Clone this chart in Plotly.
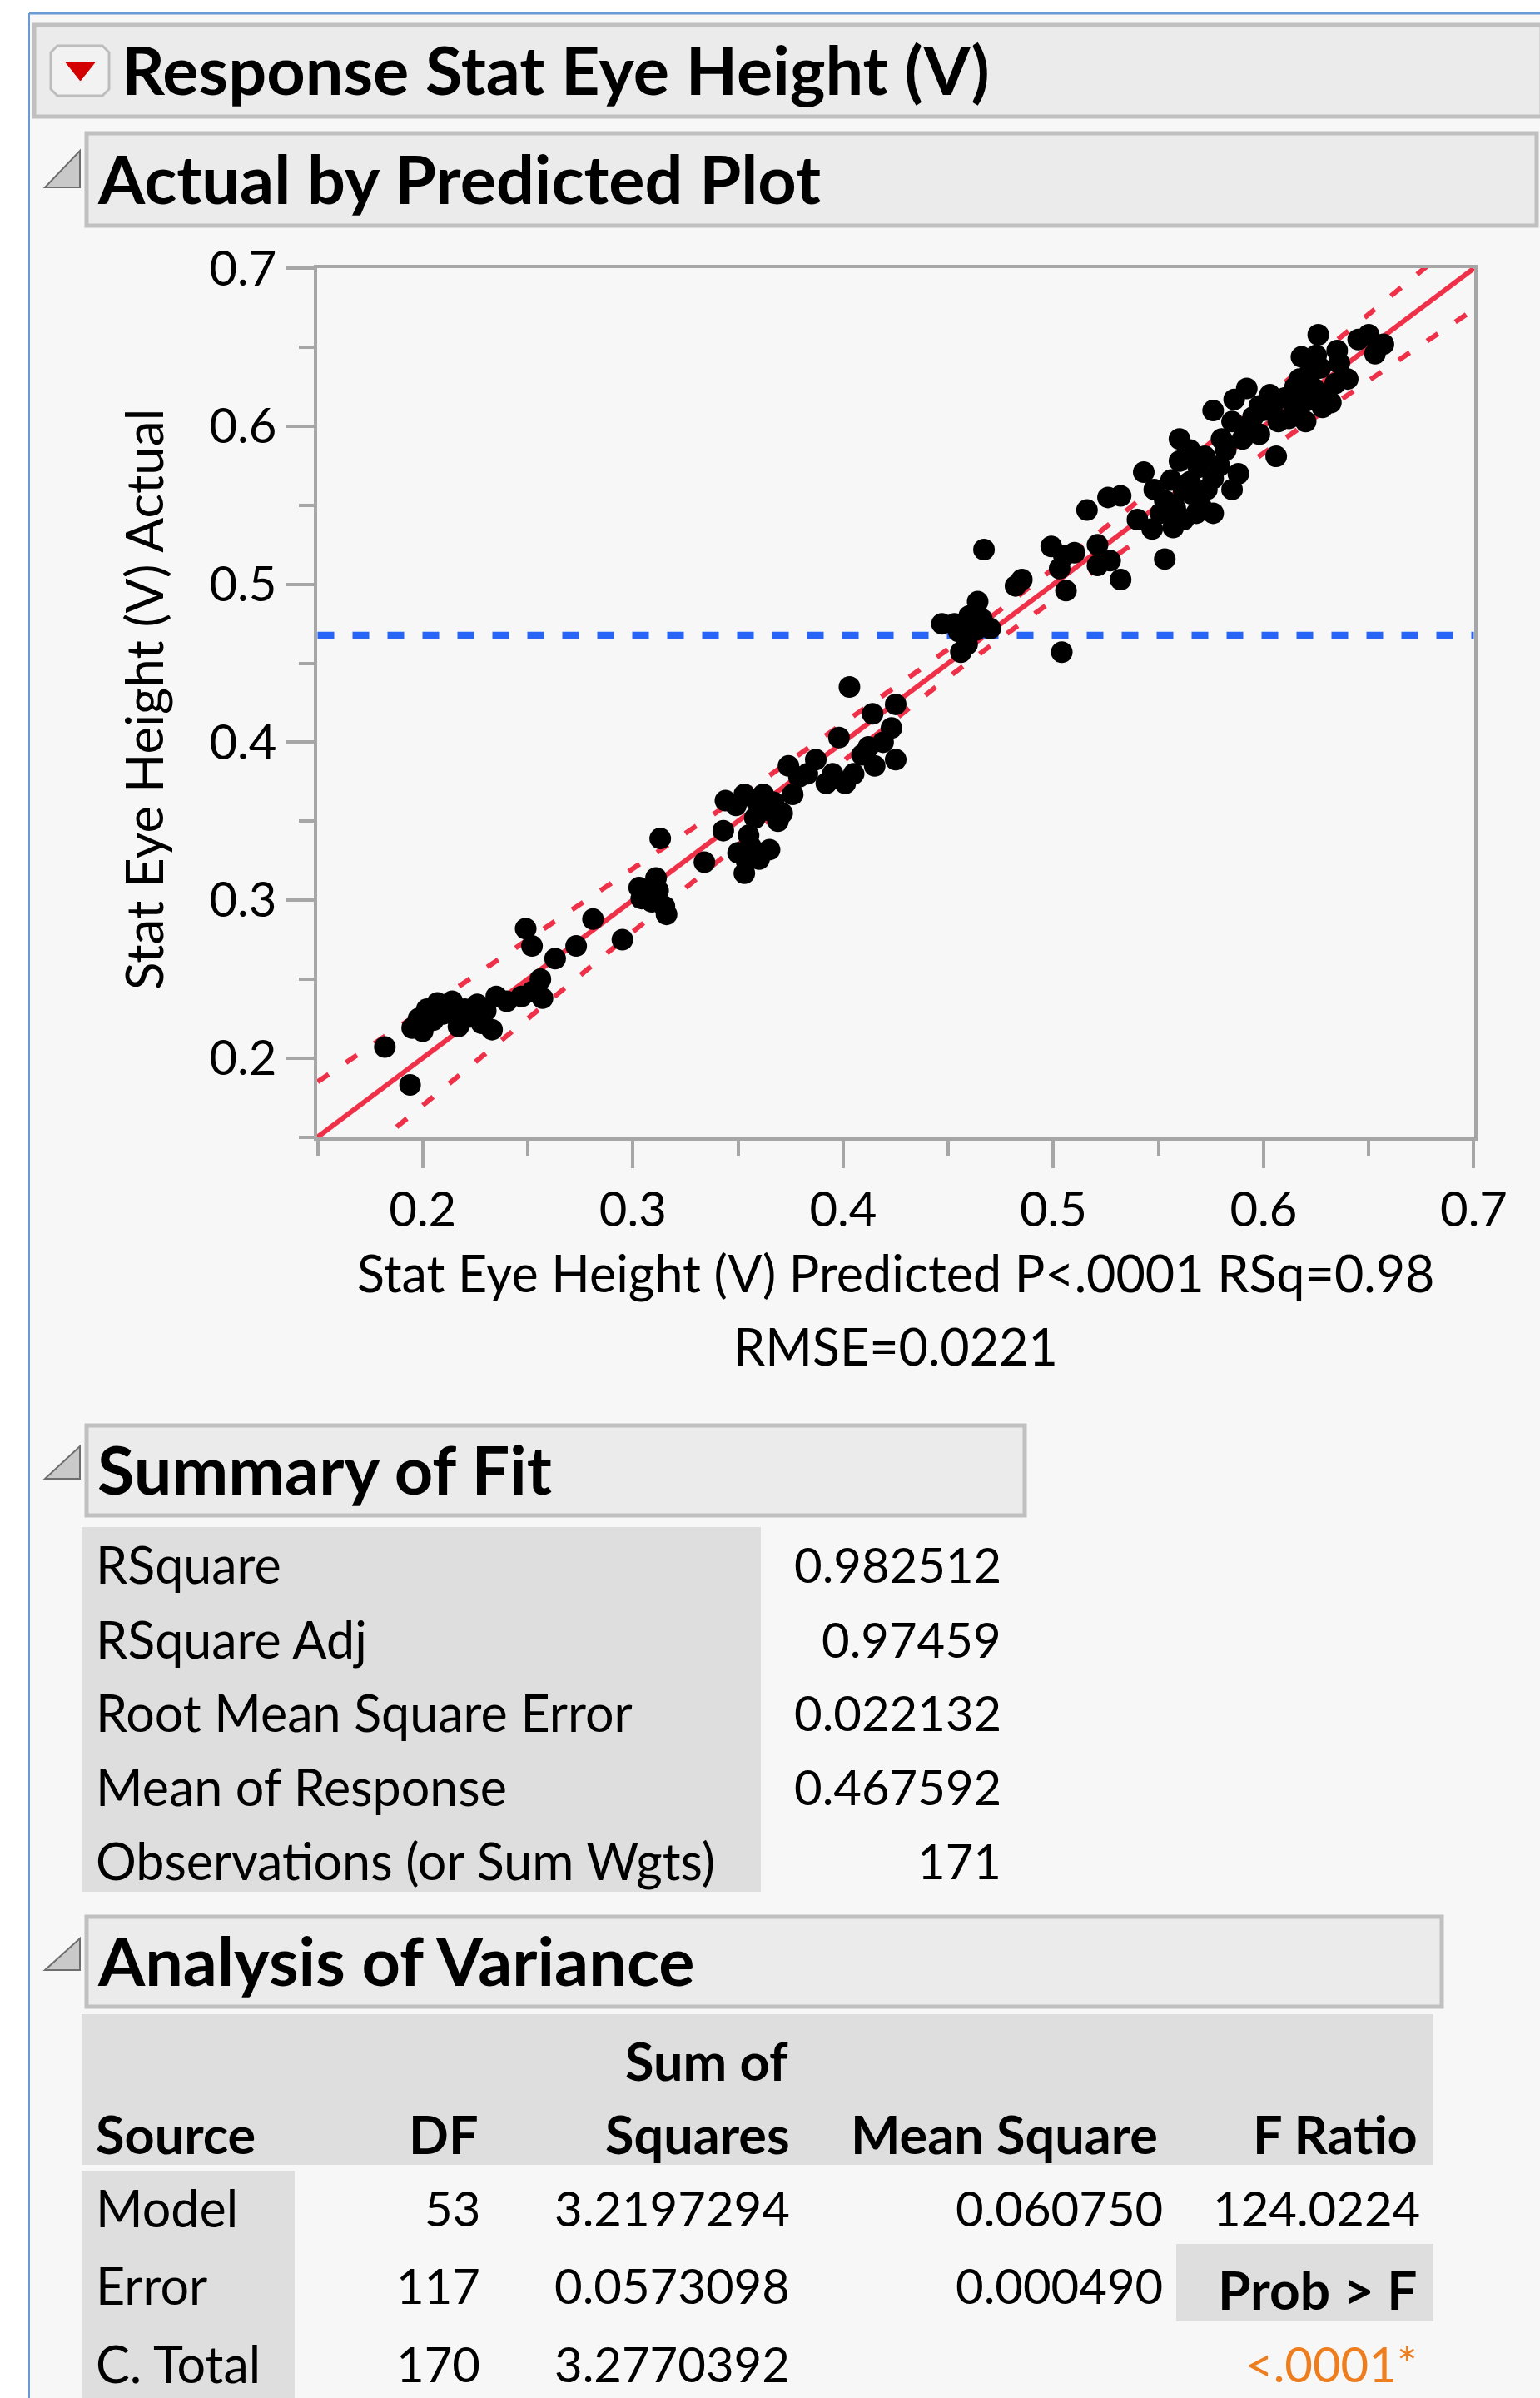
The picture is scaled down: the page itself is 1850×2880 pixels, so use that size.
import plotly.graph_objects as go

# ---------------- data ----------------
pred = [0.182,0.194,0.195,0.200,0.202,0.214,0.220,0.222,0.233,0.235,0.247,0.257,0.256,0.249,0.252,0.263,0.273,0.281,0.295,0.303,
        0.311,0.309,0.313,0.205,0.210,0.226,0.228,0.217,0.207,0.240,0.252,
        0.304,0.315,0.316,0.334,0.343,0.353,0.354,0.355,0.365,0.344,0.353,0.362,0.369,0.374,0.376,0.387,0.392,0.401,0.398,
        0.403,0.412,0.415,0.425,0.414,0.423,0.425,0.358,0.364,0.379,0.383,0.349,0.395,0.356,0.360,
        0.456,0.447,0.463,0.466,0.464,0.482,0.485,0.467,0.499,0.505,0.506,0.504,0.521,0.521,0.532,0.553,0.516,0.526,0.532,0.543,
        0.540,0.547,0.557,0.562,0.553,0.562,0.570,0.576,0.569,0.560,0.556,0.576,0.455,0.459,0.453,
        0.560,0.572,0.566,0.585,0.590,0.580,0.576,0.585,0.592,0.598,0.607,0.606,0.603,0.615,0.618,0.620,0.626,0.627,0.634,0.635,
        0.632,0.650,0.653,0.586,0.595,0.615,0.630,0.622,0.657,
        0.198,0.212,0.218,0.230,0.307,0.312,0.350,0.359,0.367,0.371,0.405,0.409,0.419,0.460,0.470,0.510,0.527,0.503,
        0.548,0.551,0.558,0.565,0.568,0.573,0.579,0.582,0.565,0.588,
        0.592,0.598,0.600,0.604,0.610,0.612,0.617,0.624,0.628,0.625,0.636,0.640,0.645,0.620]
actual = [0.207,0.183,0.219,0.217,0.231,0.236,0.231,0.226,0.218,0.239,0.239,0.238,0.250,0.282,0.271,0.263,0.271,0.288,0.275,0.308,
          0.314,0.299,0.339,0.224,0.228,0.234,0.222,0.220,0.235,0.236,0.242,
          0.301,0.296,0.291,0.324,0.344,0.317,0.325,0.341,0.332,0.363,0.367,0.367,0.350,0.385,0.367,0.389,0.374,0.374,0.403,
          0.435,0.397,0.385,0.389,0.418,0.409,0.424,0.352,0.357,0.378,0.380,0.360,0.380,0.334,0.326,
          0.457,0.475,0.471,0.478,0.489,0.499,0.503,0.522,0.524,0.518,0.496,0.457,0.525,0.512,0.503,0.516,0.547,0.555,0.556,0.571,
          0.541,0.535,0.536,0.541,0.553,0.559,0.550,0.567,0.574,0.578,0.566,0.545,0.470,0.462,0.475,
          0.592,0.581,0.557,0.560,0.592,0.592,0.610,0.603,0.624,0.613,0.603,0.581,0.620,0.625,0.644,0.616,0.658,0.637,0.627,0.648,
          0.615,0.658,0.646,0.617,0.606,0.610,0.620,0.634,0.652,
          0.225,0.232,0.226,0.230,0.305,0.306,0.330,0.362,0.362,0.355,0.380,0.392,0.400,0.480,0.472,0.520,0.515,0.510,
          0.560,0.545,0.548,0.565,0.545,0.560,0.575,0.585,0.585,0.570,
          0.600,0.595,0.610,0.612,0.618,0.605,0.630,0.624,0.612,0.645,0.640,0.630,0.655,0.603]

fit_x = [0.15, 0.70]
fit_y = [0.15, 0.70]
band_x = [0.15, 0.20, 0.25, 0.30, 0.35, 0.40, 0.45, 0.50, 0.55, 0.60, 0.65, 0.70]
band_upper = [0.185, 0.230, 0.275, 0.320, 0.365, 0.412, 0.459, 0.510, 0.563, 0.617, 0.671, 0.726]
band_lower = [0.115, 0.170, 0.225, 0.280, 0.335, 0.388, 0.441, 0.490, 0.537, 0.583, 0.629, 0.674]
mean_response = 0.467592

x_ticks = [0.2, 0.3, 0.4, 0.5, 0.6, 0.7]
y_ticks = [0.2, 0.3, 0.4, 0.5, 0.6, 0.7]
minor_ticks = [0.15, 0.25, 0.35, 0.45, 0.55, 0.65]

fit_labels = ["RSquare", "RSquare Adj", "Root Mean Square Error", "Mean of Response", "Observations (or Sum Wgts)"]
fit_values = ["0.982512", "0.97459", "0.022132", "0.467592", "171"]

anova_source = ["Model", "Error", "C. Total"]
anova_df = ["53", "117", "170"]
anova_ss = ["3.2197294", "0.0573098", "3.2770392"]
anova_ms = ["0.060750", "0.000490", ""]
f_ratio = "124.0224"
prob_f = "<.0001*"

# ---------------- layout helpers ----------------
W, H = 1850, 2880
FONT = "Lato"
def px(x): return x / W
def py(y): return 1 - y / H

GRAY = "#A6A6A6"
RED = "#EE3148"

fig = go.Figure()

fig.add_trace(go.Scatter(x=band_x, y=band_upper, mode="lines", line=dict(color=RED, width=6, dash="16px,25px", shape="spline"), hoverinfo="skip"))
fig.add_trace(go.Scatter(x=band_x, y=band_lower, mode="lines", line=dict(color=RED, width=6, dash="16px,25px", shape="spline"), hoverinfo="skip"))
fig.add_trace(go.Scatter(x=fit_x, y=fit_y, mode="lines", line=dict(color=RED, width=6), hoverinfo="skip"))
fig.add_trace(go.Scatter(x=[0.15, 0.70], y=[mean_response, mean_response], mode="lines",
                         line=dict(color="#2864F6", width=9, dash="20px,22px"), hoverinfo="skip"))
fig.add_trace(go.Scatter(x=pred, y=actual, mode="markers", marker=dict(color="black", size=26, line=dict(width=0)), hoverinfo="skip"))

axis_common = dict(
    showline=True, linecolor=GRAY, linewidth=4, mirror=True, automargin=False,
    showgrid=False, zeroline=False,
    ticks="outside", ticklen=33, tickwidth=4, tickcolor=GRAY,
    tickfont=dict(family=FONT, size=58, color="black"),
    tickmode="array",
)
fig.update_layout(
    width=W, height=H, margin=dict(l=0, r=0, t=0, b=0, autoexpand=False),
    paper_bgcolor="white", plot_bgcolor="white", showlegend=False,
    xaxis=dict(**axis_common, domain=[px(381), px(1771)], range=[0.1498, 0.7002],
               tickvals=x_ticks, ticktext=[str(v) for v in x_ticks],
               minor=dict(tickmode="array", tickvals=minor_ticks, ticks="outside", ticklen=18, tickwidth=4, tickcolor=GRAY)),
    yaxis=dict(**axis_common, domain=[py(1366), py(322)], range=[0.1498, 0.7002],
               tickvals=y_ticks, ticktext=[str(v) for v in y_ticks],
               minor=dict(tickmode="array", tickvals=minor_ticks, ticks="outside", ticklen=18, tickwidth=4, tickcolor=GRAY)),
)

shapes = []
def rect(x0, y0, x1, y1, fill, line=None, lw=0, layer="below"):
    shapes.append(dict(type="rect", xref="paper", yref="paper", x0=px(x0), x1=px(x1), y0=py(y1), y1=py(y0),
                       fillcolor=fill, line=dict(color=line or fill, width=lw), layer=layer))
def path(pts, fill, line, lw):
    d = "M " + " L ".join(f"{px(x)},{py(y)}" for x, y in pts) + " Z"
    shapes.append(dict(type="path", xref="paper", yref="paper", path=d, fillcolor=fill, line=dict(color=line, width=lw), layer="below"))

# panel background and blue outline
rect(35, 16, 1850, 2880, "#F7F7F7")
shapes.append(dict(type="line", xref="paper", yref="paper", x0=px(35), x1=px(35), y0=py(16), y1=0, line=dict(color="#6A9AD4", width=2), layer="below"))
shapes.append(dict(type="line", xref="paper", yref="paper", x0=px(35), x1=1, y0=py(16), y1=py(16), line=dict(color="#6A9AD4", width=3), layer="below"))

HDR_FILL, HDR_LINE = "#EBEBEB", "#C0C0C0"
rect(41, 30, 1852, 140, HDR_FILL, HDR_LINE, 5)
rect(104, 160, 1846, 271, HDR_FILL, HDR_LINE, 5)
rect(104, 1712, 1231, 1820, HDR_FILL, HDR_LINE, 5)
rect(104, 2302, 1732, 2410, HDR_FILL, HDR_LINE, 5)

# red triangle button
r = 8
path([(61 + r, 55), (131 - r, 55), (131, 55 + r), (131, 115 - r), (131 - r, 115), (61 + r, 115), (61, 115 - r), (61, 55 + r)],
     "#F2F2F2", "#BDBDBD", 3)
path([(79, 75), (114, 75), (96.5, 97)], "#D40000", "#D40000", 1)

# disclosure triangles
for (t, b) in [(181, 225), (1737, 1776), (2328, 2366)]:
    path([(96, t), (96, b), (54, b)], "#C9C9C9", "#6E6E6E", 2)

# table backgrounds
TBL = "#DEDEDE"
rect(98, 1834, 914, 2272, TBL)
rect(98, 2419, 1722, 2600, TBL)
rect(98, 2607, 354, 2880, TBL)
rect(1413, 2695, 1722, 2788, TBL)

annotations = []
def text(s, x, yc, anchor="left", size=58, bold=False, color="black", angle=0):
    annotations.append(dict(text=f"<b>{s}</b>" if bold else s, xref="paper", yref="paper", x=px(x), y=py(yc),
                            xanchor=anchor, yanchor="middle", showarrow=False, textangle=angle,
                            font=dict(family=FONT, size=size, color=color), borderpad=0))

HB = 81   # header bold size
LB = 61   # label size
NB = 58   # number size
TB = 63   # table header bold size

# headers
text("Response Stat Eye Height (V)", 145, 83, size=HB, bold=True)
text("Actual by Predicted Plot", 116, 213, size=HB, bold=True)
text("Summary of Fit", 116, 1763, size=HB, bold=True)
text("Analysis of Variance", 116, 2353, size=HB, bold=True)

# axis titles
text("Stat Eye Height (V) Predicted P&lt;.0001 RSq=0.98", 1076, 1528, anchor="center", size=61)
text("RMSE=0.0221", 1076, 1617, anchor="center", size=61)
text("Stat Eye Height (V) Actual", 172, 840, anchor="center", angle=-90, size=62)

# summary of fit table
fit_rows_y = [1878, 1968, 2056, 2145, 2234]
for lab, val, yc in zip(fit_labels, fit_values, fit_rows_y):
    text(lab, 114, yc, size=LB)
    text(val, 1204, yc, anchor="right", size=NB)

# anova table
text("Sum of", 948, 2474, anchor="right", bold=True, size=TB)
hdr_y = 2562
text("Source", 114, hdr_y, bold=True, size=TB)
text("DF", 576, hdr_y, anchor="right", bold=True, size=TB)
text("Squares", 950, hdr_y, anchor="right", bold=True, size=TB)
text("Mean Square", 1392, hdr_y, anchor="right", bold=True, size=TB)
text("F Ratio", 1704, hdr_y, anchor="right", bold=True, size=TB)
row_y = [2651, 2744, 2838]
for src, dfv, ss, ms, yc in zip(anova_source, anova_df, anova_ss, anova_ms, row_y):
    text(src, 114, yc, size=LB)
    text(dfv, 578, yc, anchor="right", size=NB)
    text(ss, 950, yc, anchor="right", size=NB)
    if ms:
        text(ms, 1398, yc, anchor="right", size=NB)
text(f_ratio, 1707, row_y[0], anchor="right", size=NB)
text("Prob &gt; F", 1704, 2749, anchor="right", bold=True, size=64)
text(prob_f, 1704, row_y[2], anchor="right", color="#EE7D1E", size=NB)

fig.update_layout(shapes=shapes, annotations=annotations)
fig.write_html("out.html")
